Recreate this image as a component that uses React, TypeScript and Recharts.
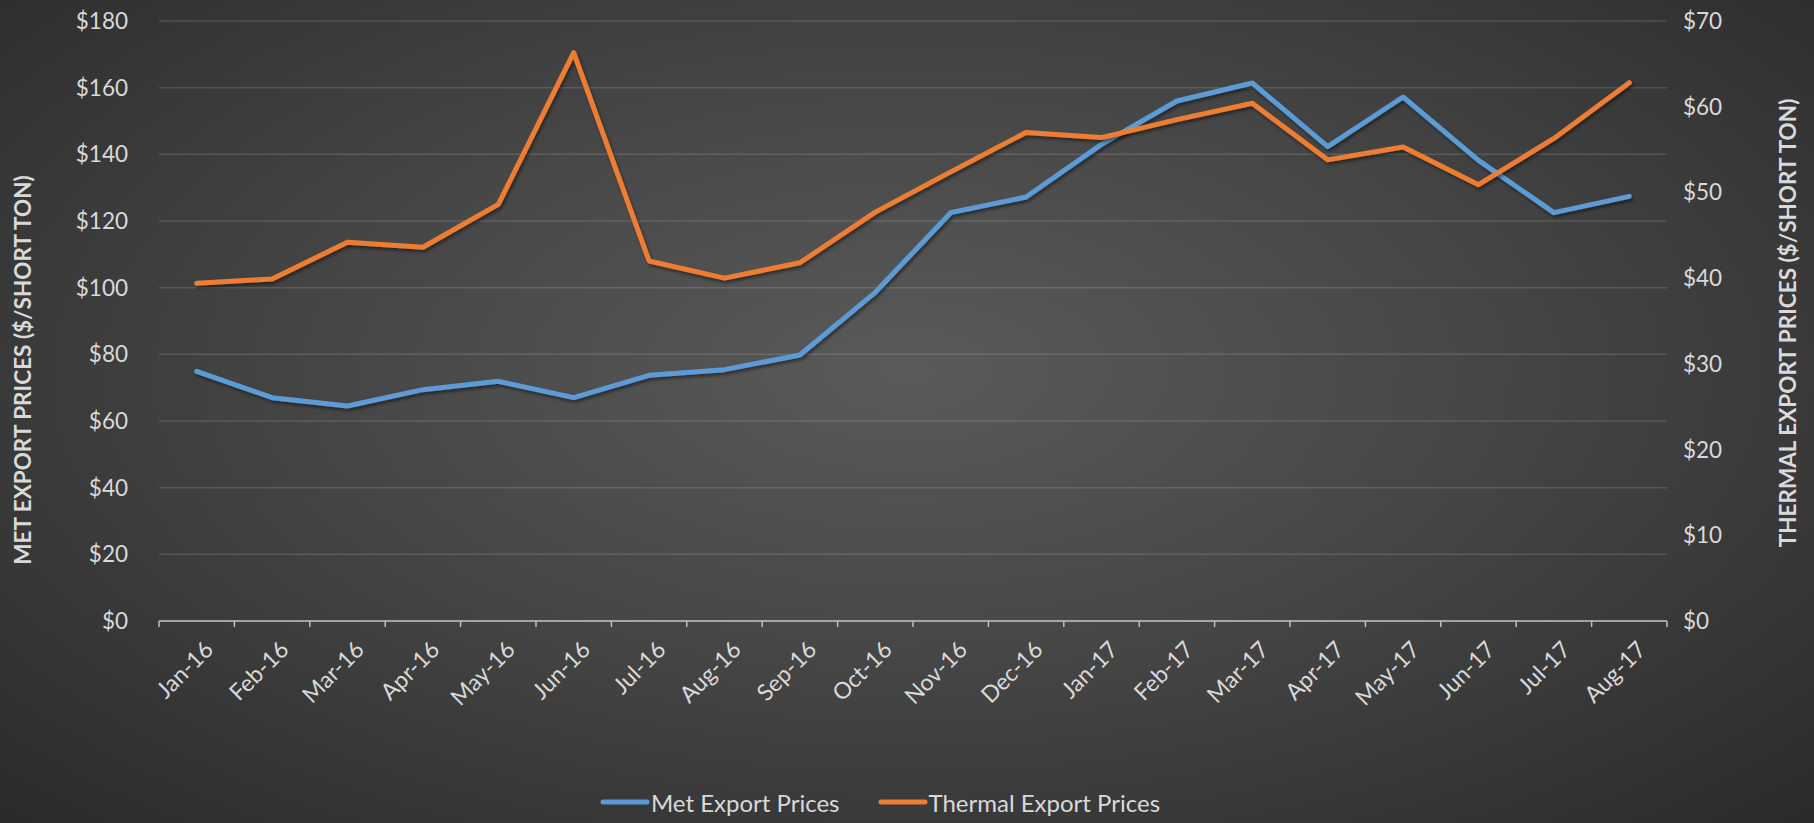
import React from 'react';
import { ComposedChart, Line, XAxis, YAxis, CartesianGrid, Legend } from 'recharts';

const months = ['Jan-16','Feb-16','Mar-16','Apr-16','May-16','Jun-16','Jul-16','Aug-16','Sep-16','Oct-16','Nov-16','Dec-16','Jan-17','Feb-17','Mar-17','Apr-17','May-17','Jun-17','Jul-17','Aug-17'];
const metPrices = [74.9, 67.0, 64.5, 69.4, 71.9, 67.0, 73.7, 75.4, 79.8, 98.6, 122.5, 127.2, 143.0, 156.0, 161.4, 142.3, 157.2, 138.2, 122.5, 127.4];
const thermalPrices = [39.4, 39.9, 44.2, 43.6, 48.6, 66.3, 42.0, 40.0, 41.8, 47.7, 52.4, 57.0, 56.4, 58.5, 60.4, 53.8, 55.3, 50.9, 56.3, 62.8];
const leftTicks = [0, 20, 40, 60, 80, 100, 120, 140, 160, 180];
const rightTicks = [0, 10, 20, 30, 40, 50, 60, 70];

const data = months.map((m, i) => ({ month: m, met: metPrices[i], thermal: thermalPrices[i] }));

const W = 1814;
const H = 823;
const LEFT_W = 159;
const RIGHT_W = 147;
const BAND = (W - LEFT_W - RIGHT_W) / months.length;
const TXT = '#d9d9d9';
const FONT = 'Lato, "Open Sans", sans-serif';

const XTick = (props: any) => {
  const { x, y, payload, index } = props;
  const ax = x + 5;
  const ay = y + 17;
  return (
    <g>
      <line x1={x - BAND / 2} y1={y} x2={x - BAND / 2} y2={y + 6} stroke="#bfbfbf" strokeWidth={1.5} />
      {index === months.length - 1 && (
        <line x1={x + BAND / 2} y1={y} x2={x + BAND / 2} y2={y + 6} stroke="#bfbfbf" strokeWidth={1.5} />
      )}
      <text x={ax} y={ay} textAnchor="end" dominantBaseline="hanging" fill={TXT} fontSize={23} fontFamily={FONT}
        transform={`rotate(-45, ${ax}, ${ay})`}>{payload.value}</text>
    </g>
  );
};

const LeftTitle = (props: any) => {
  const vb = props.viewBox;
  const cx = 22;
  const cy = vb.y + vb.height / 2 + 49;
  return (
    <text x={cx} y={cy} textAnchor="middle" dominantBaseline="central" fill={TXT} fontSize={22.5} fontWeight={700}
      fontFamily={FONT} transform={`rotate(-90, ${cx}, ${cy})`}>MET EXPORT PRICES ($/SHORT TON)</text>
  );
};

const RightTitle = (props: any) => {
  const vb = props.viewBox;
  const cx = 1787;
  const cy = vb.y + vb.height / 2 + 2;
  return (
    <text x={cx} y={cy} textAnchor="middle" dominantBaseline="central" fill={TXT} fontSize={22.5} fontWeight={700}
      fontFamily={FONT} transform={`rotate(-90, ${cx}, ${cy})`}>THERMAL EXPORT PRICES ($/SHORT TON)</text>
  );
};

const LegendContent = () => {
  const items = [
    { label: 'Met Export Prices', color: '#5b9bd5' },
    { label: 'Thermal Export Prices', color: '#ed7d31' },
  ];
  return (
    <div style={{ height: 42, display: 'flex', alignItems: 'center', justifyContent: 'center', marginLeft: -54, fontFamily: FONT, fontSize: 24, color: TXT }}>
      {items.map((it, i) => (
        <div key={it.label} style={{ display: 'flex', alignItems: 'center', marginLeft: i === 0 ? 0 : 38 }}>
          <svg width={50} height={10} style={{ marginRight: 1 }}>
            <line x1={3} y1={5} x2={47} y2={5} stroke={it.color} strokeWidth={5} strokeLinecap="round" />
          </svg>
          <span>{it.label}</span>
        </div>
      ))}
    </div>
  );
};

export default function App() {
  return (
    <div style={{ position: 'absolute', left: 0, top: 0, width: W, height: H,
      background: 'radial-gradient(ellipse farthest-corner at 50% 45%, #5a5a5a 0%, #464646 45%, #2a2a2a 100%)' }}>
      <ComposedChart width={W} height={H} data={data} margin={{ top: 21, right: 0, left: 0, bottom: 0 }}>
        <defs>
          <filter id="lineShadow" x="-5%" y="-5%" width="110%" height="120%">
            <feDropShadow dx="1.5" dy="2.5" stdDeviation="1.8" floodColor="#000" floodOpacity="0.45" />
          </filter>
        </defs>
        <CartesianGrid yAxisId="left" vertical={false} stroke="rgba(255,255,255,0.13)" strokeWidth={1.5} />
        <XAxis dataKey="month" scale="band" interval={0} height={160} tickSize={0} tickMargin={0} tickLine={false}
          axisLine={{ stroke: '#bfbfbf', strokeWidth: 1.5 }} tick={<XTick />} />
        <YAxis yAxisId="left" orientation="left" width={LEFT_W} domain={[0, 180]} ticks={leftTicks} interval={0}
          axisLine={false} tickLine={false} tickSize={0} tickMargin={31} tickFormatter={(v: number) => `$${v}`}
          tick={{ fill: TXT, fontSize: 22.5, fontFamily: FONT }} label={<LeftTitle />} />
        <YAxis yAxisId="right" orientation="right" width={RIGHT_W} domain={[0, 70]} ticks={rightTicks} interval={0}
          axisLine={false} tickLine={false} tickSize={0} tickMargin={16} tickFormatter={(v: number) => `$${v}`}
          tick={{ fill: TXT, fontSize: 22.5, fontFamily: FONT }} label={<RightTitle />} />
        <Legend verticalAlign="bottom" height={42} content={<LegendContent />} />
        <Line yAxisId="left" type="linear" dataKey="met" name="Met Export Prices" stroke="#5b9bd5" strokeWidth={5}
          dot={false} activeDot={false} strokeLinecap="round" strokeLinejoin="round" filter="url(#lineShadow)" isAnimationActive={false} />
        <Line yAxisId="right" type="linear" dataKey="thermal" name="Thermal Export Prices" stroke="#ed7d31" strokeWidth={5}
          dot={false} activeDot={false} strokeLinecap="round" strokeLinejoin="round" filter="url(#lineShadow)" isAnimationActive={false} />
      </ComposedChart>
    </div>
  );
}
